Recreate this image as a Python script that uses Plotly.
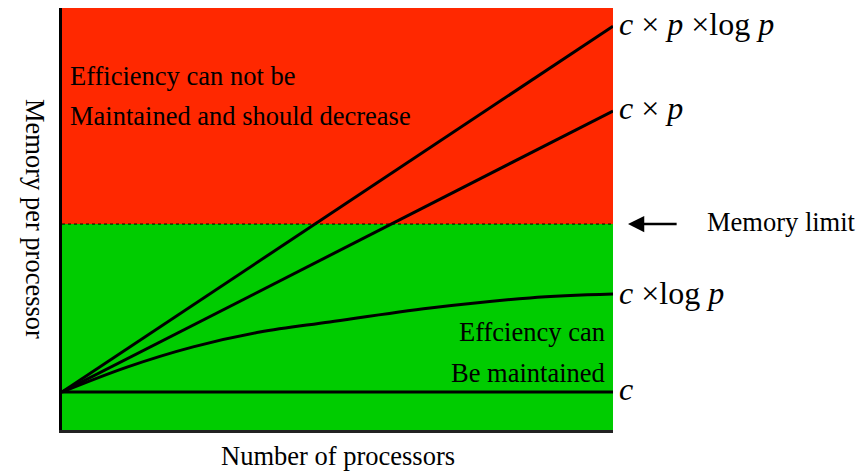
import plotly.graph_objects as go

# Data (arbitrary units)
p_vals = [0.0, 1.18, 2.38, 3.59, 4.86, 6.68, 8.49, 10.0]
c_logp = [0.90, 1.49, 1.97, 2.32, 2.56, 2.89, 3.13, 3.22]
p_line = [0.0, 10.0]
c_const = [0.90, 0.90]
c_p = [0.90, 7.56]
c_p_logp = [0.90, 9.57]
memory_limit = 4.88
x_max = 10.0
y_max = 10.0

labels = {
    "cplogp": "<i>c</i> × <i>p</i> ×log <i>p</i>",
    "cp": "<i>c</i> × <i>p</i>",
    "clogp": "<i>c</i> ×log <i>p</i>",
    "c": "<i>c</i>",
}

RED = "#FF2800"
GREEN = "#00CC00"
FONT = "Liberation Serif, Times New Roman, serif"

fig = go.Figure()

line_style = dict(color="black", width=3)
fig.add_trace(go.Scatter(x=p_line, y=c_p_logp, mode="lines", line=line_style, hoverinfo="skip"))
fig.add_trace(go.Scatter(x=p_line, y=c_p, mode="lines", line=line_style, hoverinfo="skip"))
fig.add_trace(go.Scatter(x=p_vals, y=c_logp, mode="lines", line=dict(color="black", width=3, shape="spline"), hoverinfo="skip"))
fig.add_trace(go.Scatter(x=p_line, y=c_const, mode="lines", line=line_style, hoverinfo="skip"))

fig.add_shape(type="rect", x0=0, x1=x_max, y0=memory_limit, y1=y_max, fillcolor=RED, line_width=0, layer="below")
fig.add_shape(type="rect", x0=0, x1=x_max, y0=0, y1=memory_limit, fillcolor=GREEN, line_width=0, layer="below")
fig.add_shape(type="line", x0=0, x1=x_max, y0=memory_limit, y1=memory_limit, line=dict(color="black", width=1, dash="dot"))

ann = []
def txt(text, x, y, xanchor="left", yanchor="middle", size=26.5, xshift=0, yshift=0):
    ann.append(dict(text=text, x=x, y=y, xref="x", yref="y", showarrow=False,
                    xanchor=xanchor, yanchor=yanchor, xshift=xshift, yshift=yshift,
                    font=dict(family=FONT, size=size, color="black")))

txt("Efficiency can not be", 0, 8.4, xshift=6)
txt("Maintained and should decrease", 0, 7.45, xshift=6)
txt("Effciency can", x_max, 2.33, xanchor="right", xshift=-6)
txt("Be maintained", x_max, 1.36, xanchor="right", xshift=-6)
txt(labels["cplogp"], x_max, c_p_logp[-1], size=32, xshift=4, yshift=2)
txt(labels["cp"], x_max, c_p[-1], size=32, xshift=4, yshift=3)
txt(labels["clogp"], x_max, c_logp[-1], size=32, xshift=4, yshift=1)
txt(labels["c"], x_max, c_const[-1], size=32, xshift=4, yshift=3)
txt("Memory limit", x_max, memory_limit, xshift=92, yshift=2)

# arrow
ann.append(dict(x=x_max, y=memory_limit, xref="x", yref="y", ax=x_max + 0.91, ay=memory_limit,
                axref="x", ayref="y", text="", showarrow=True, arrowhead=2, arrowsize=1.3,
                arrowwidth=2.5, arrowcolor="black", xshift=15, yshift=0))

# axis titles
ann.append(dict(text="Memory per processor", x=-44 / 551, y=0.5, xref="paper", yref="paper", showarrow=False,
                textangle=90, font=dict(family=FONT, size=26.5, color="black")))
ann.append(dict(text="Number of processors", x=0.5, y=0, xref="paper", yref="paper", showarrow=False,
                yanchor="middle", yshift=-26, font=dict(family=FONT, size=26.5, color="black")))

fig.update_layout(
    width=862, height=472,
    margin=dict(l=62, r=249, t=8, b=42),
    paper_bgcolor="white", plot_bgcolor="white",
    showlegend=False,
    annotations=ann,
    xaxis=dict(range=[0, x_max], showgrid=False, zeroline=False, showticklabels=False,
               showline=True, linecolor="#222", linewidth=3, ticks=""),
    yaxis=dict(range=[0, y_max], showgrid=False, zeroline=False, showticklabels=False,
               showline=True, linecolor="black", linewidth=3, ticks=""),
)

fig.write_html("out.html", config={"displayModeBar": False},
               post_script="document.body.style.margin='0';")
